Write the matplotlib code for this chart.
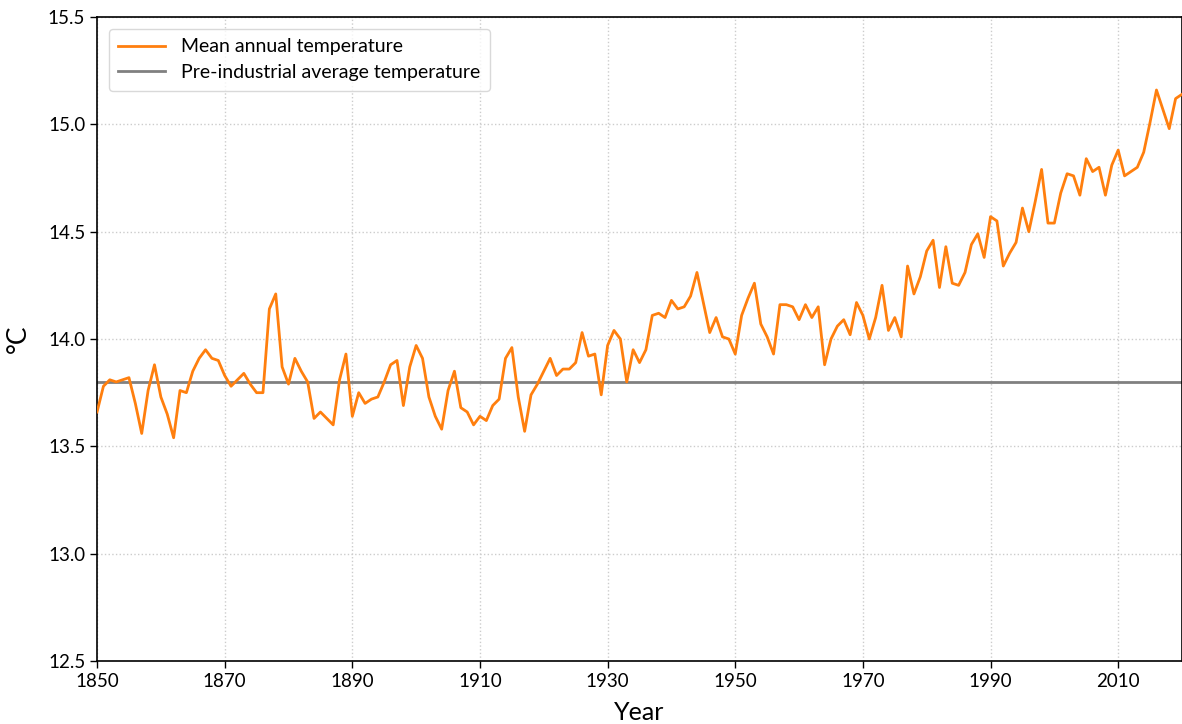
import numpy as np
import matplotlib
matplotlib.use('Agg')
import matplotlib.pyplot as plt

plt.rcParams['font.family'] = ['Lato', 'DejaVu Sans']

# annual mean temperature, 1850-2020
years = list(range(1850, 2021))
temps = [
    13.66, 13.78, 13.81, 13.80, 13.81, 13.82, 13.70, 13.56, 13.76, 13.88,  # 1850s
    13.73, 13.65, 13.54, 13.76, 13.75, 13.85, 13.91, 13.95, 13.91, 13.90,  # 1860s
    13.83, 13.78, 13.81, 13.84, 13.79, 13.75, 13.75, 14.14, 14.21, 13.87,  # 1870s
    13.79, 13.91, 13.85, 13.80, 13.63, 13.66, 13.63, 13.60, 13.81, 13.93,  # 1880s
    13.64, 13.75, 13.70, 13.72, 13.73, 13.80, 13.88, 13.90, 13.69, 13.87,  # 1890s
    13.97, 13.91, 13.73, 13.64, 13.58, 13.76, 13.85, 13.68, 13.66, 13.60,  # 1900s
    13.64, 13.62, 13.69, 13.72, 13.91, 13.96, 13.73, 13.57, 13.74, 13.79,  # 1910s
    13.85, 13.91, 13.83, 13.86, 13.86, 13.89, 14.03, 13.92, 13.93, 13.74,  # 1920s
    13.97, 14.04, 14.00, 13.80, 13.95, 13.89, 13.95, 14.11, 14.12, 14.10,  # 1930s
    14.18, 14.14, 14.15, 14.20, 14.31, 14.17, 14.03, 14.10, 14.01, 14.00,  # 1940s
    13.93, 14.11, 14.19, 14.26, 14.07, 14.01, 13.93, 14.16, 14.16, 14.15,  # 1950s
    14.09, 14.16, 14.10, 14.15, 13.88, 14.00, 14.06, 14.09, 14.02, 14.17,  # 1960s
    14.11, 14.00, 14.10, 14.25, 14.04, 14.10, 14.01, 14.34, 14.21, 14.29,  # 1970s
    14.41, 14.46, 14.24, 14.43, 14.26, 14.25, 14.31, 14.44, 14.49, 14.38,  # 1980s
    14.57, 14.55, 14.34, 14.40, 14.45, 14.61, 14.50, 14.64, 14.79, 14.54,  # 1990s
    14.54, 14.68, 14.77, 14.76, 14.67, 14.84, 14.78, 14.80, 14.67, 14.81,  # 2000s
    14.88, 14.76, 14.78, 14.80, 14.87, 15.01, 15.16, 15.07, 14.98, 15.12,  # 2010s
    15.14,
]
preindustrial = 13.8

x_ticks = list(range(1850, 2011, 20))
y_ticks = [12.5, 13.0, 13.5, 14.0, 14.5, 15.0, 15.5]

fig = plt.figure(figsize=(11.82, 7.24), dpi=100)
ax = fig.add_axes([0.0821, 0.087, 0.9179, 0.8895])

ax.plot(years, temps, color='#ff7f0e', lw=2.0, label='Mean annual temperature', zorder=3)
ax.axhline(preindustrial, color='#808080', lw=2.0, label='Pre-industrial average temperature', zorder=2)

ax.set_xlim(1850, 2020)
ax.set_ylim(12.5, 15.5)
ax.set_xticks(x_ticks)
ax.set_yticks(y_ticks)
ax.set_yticklabels(['%.1f' % v for v in y_ticks])
ax.tick_params(labelsize=13.5, length=5, width=1, direction='out')
ax.grid(True, ls=':', color='#cccccc', lw=1)
ax.set_axisbelow(True)
for s in ax.spines.values():
    s.set_linewidth(1.2)

ax.set_xlabel('Year', fontsize=18, labelpad=8)
ax.set_ylabel('°C', fontsize=19, labelpad=12)

leg = ax.legend(loc='upper left', fontsize=14, frameon=True, fancybox=True,
                borderpad=0.5, handlelength=2.4, labelspacing=0.45,
                borderaxespad=0.6)
leg.get_frame().set_edgecolor('#d0d0d0')

fig.savefig('out.png', dpi=100)
